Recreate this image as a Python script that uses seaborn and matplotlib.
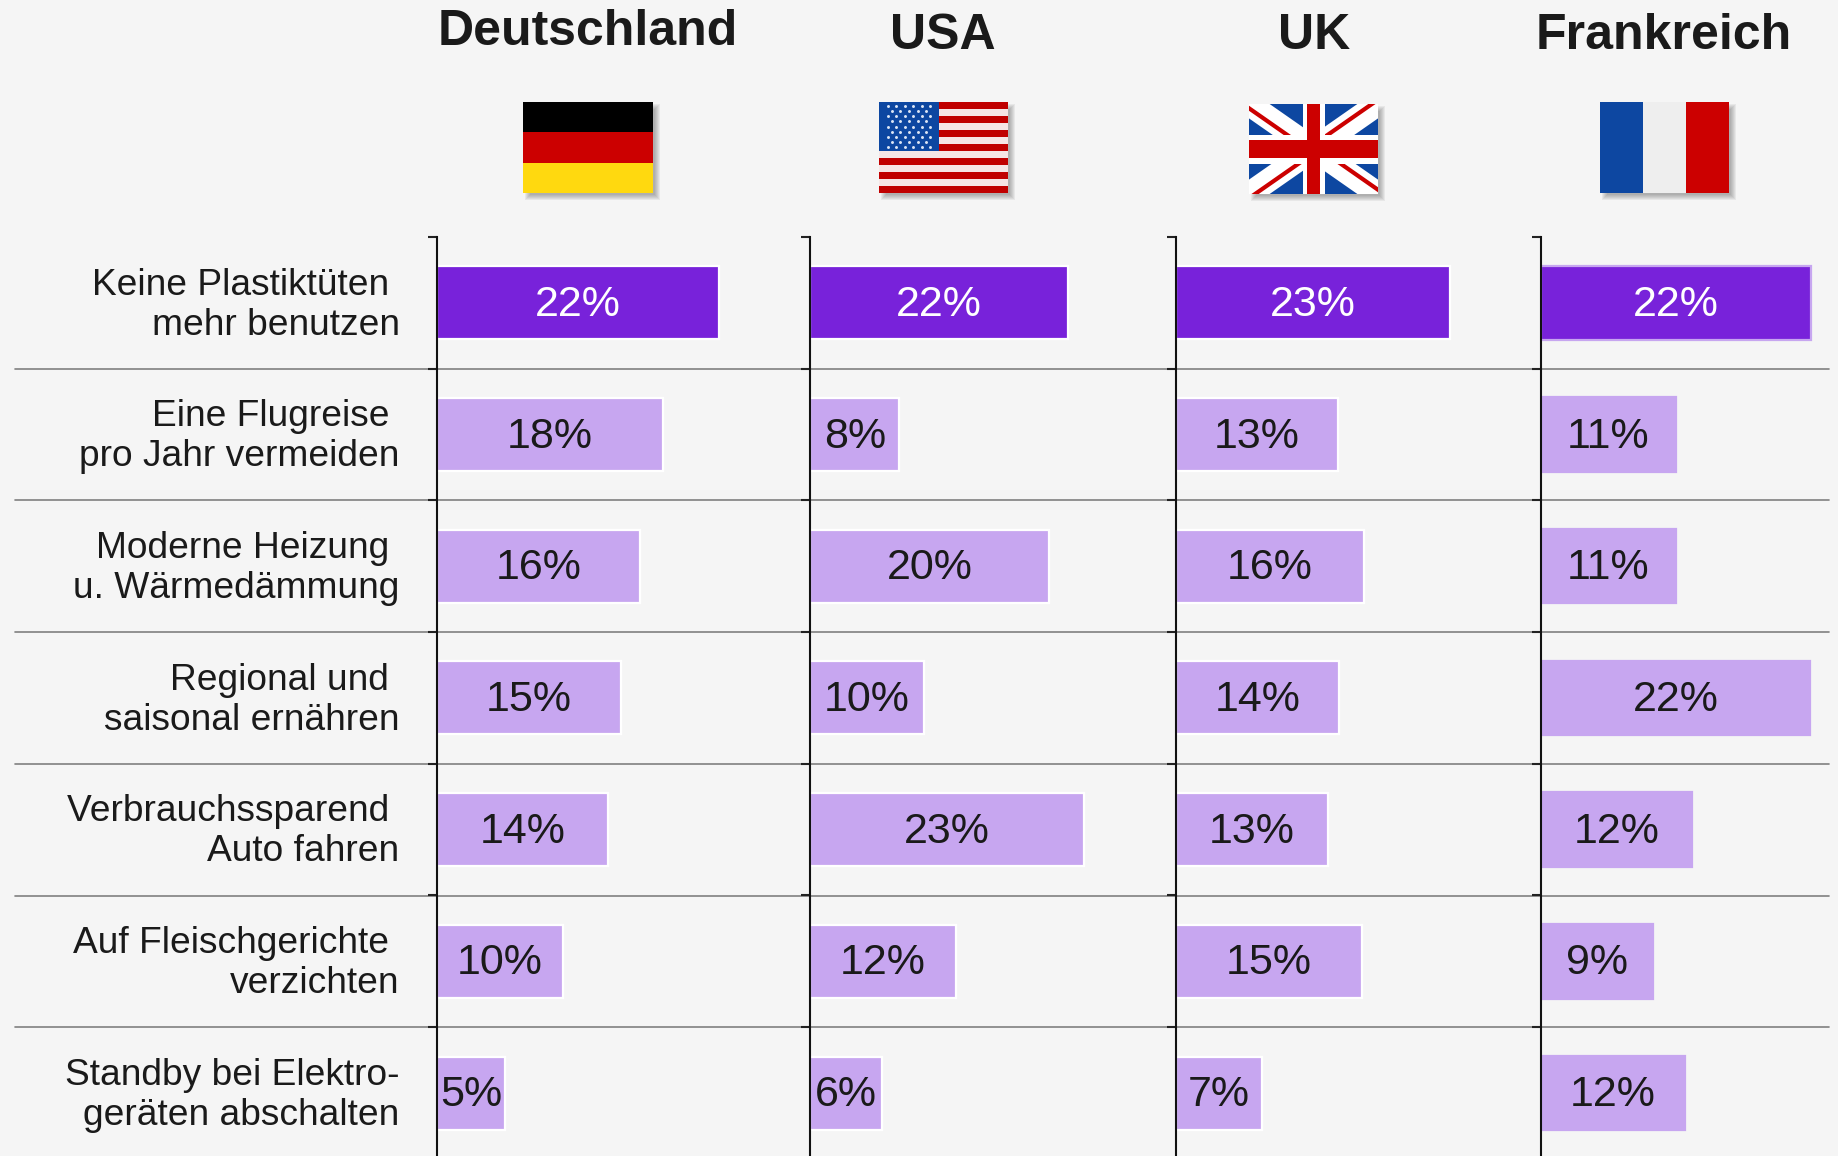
import matplotlib
matplotlib.use('Agg')
import matplotlib.pyplot as plt
from matplotlib.patches import Rectangle
from matplotlib.transforms import ScaledTranslation
import pandas as pd
import seaborn as sns

# Maßnahmen (Zeilen)
massnahmen = ['Keine Plastiktüten \nmehr benutzen', 'Eine Flugreise \npro Jahr vermeiden',
              'Moderne Heizung \nu. Wärmedämmung', 'Regional und \nsaisonal ernähren',
              'Verbrauchssparend \nAuto fahren', 'Auf Fleischgerichte \nverzichten',
              'Standby bei Elektro-\ngeräten abschalten']

# Balkenlängen, Beschriftung wie gedruckt
deutschland = [22.4, 18.0, 16.1, 14.6, 13.6, 10.0, 5.4]
usa = [21.9, 7.6, 20.3, 9.7, 23.3, 12.4, 6.1]
uk = [23.2, 13.7, 15.9, 13.8, 12.9, 15.8, 7.3]
frankreich = [22.0, 11.0, 11.0, 21.9, 12.3, 9.1, 11.7]

labels_deutschland = ['22%', '18%', '16%', '15%', '14%', '10%', '5%']
labels_usa = ['22%', '8%', '20%', '10%', '23%', '12%', '6%']
labels_uk = ['23%', '13%', '16%', '14%', '13%', '15%', '7%']
labels_frankreich = ['22%', '11%', '11%', '22%', '12%', '9%', '12%']

BG = '#F5F5F5'
DARK = '#7822DA'
LIGHT = '#C7A6F0'
TEXT = '#1A1A1A'
BLUE = '#0D47A1'
RED = '#CC0000'

W, H = 1838, 1156
TOP = 237
ROW = 131.7

sns.set_theme(style='white', rc={'figure.facecolor': BG, 'savefig.facecolor': BG})
plt.rcParams['font.family'] = ['Liberation Sans', 'DejaVu Sans']

fig = plt.figure(figsize=(W / 100, H / 100), dpi=100)

# Hintergrund-Achse in Pixelkoordinaten für Titel, Flaggen, Trennlinien
bg = fig.add_axes([0, 0, 1, 1], zorder=0)
bg.set_xlim(0, W)
bg.set_ylim(H, 0)
bg.axis('off')


def flag_base(x, y, w, h):
    # weicher Schatten
    for i in range(1, 7):
        bg.add_patch(Rectangle((x + 8 - i, y + 8 - i), w + 2 * i - 7, h + 2 * i - 7,
                               color='#444444', alpha=0.08, lw=0))
    return Rectangle((x, y), w, h, transform=bg.transData)


def draw_germany(x, y, w, h):
    flag_base(x, y, w, h)
    for i, c in enumerate(['#000000', RED, '#FFD90F']):
        bg.add_patch(Rectangle((x, y + i * h / 3), w, h / 3, color=c, lw=0))


def draw_france(x, y, w, h):
    flag_base(x, y, w, h)
    for i, c in enumerate([BLUE, '#EEEEEE', RED]):
        bg.add_patch(Rectangle((x + i * w / 3, y), w / 3, h, color=c, lw=0))


def draw_usa(x, y, w, h):
    flag_base(x, y, w, h)
    for i in range(13):
        c = '#C00000' if i % 2 == 0 else '#F6E6E6'
        bg.add_patch(Rectangle((x, y + i * h / 13), w, h / 13, color=c, lw=0))
    cw, ch = w * 0.465, h * 7 / 13
    bg.add_patch(Rectangle((x, y), cw, ch, color=BLUE, lw=0, zorder=2))
    sx, sy = [], []
    for r in range(9):
        n = 6 if r % 2 == 0 else 5
        for c in range(n):
            sx.append(x + cw * (c + (1 if r % 2 == 0 else 1.5)) / 7)
            sy.append(y + ch * (r + 0.7) / 9.4)
    bg.scatter(sx, sy, s=4.5, color='#DCE6F5', lw=0, zorder=3)


def draw_uk(x, y, w, h):
    clip = flag_base(x, y, w, h)
    bg.add_patch(Rectangle((x, y), w, h, color=BLUE, lw=0))
    cx, cy = x + w / 2, y + h / 2
    arms = [((x, y), -2.5, 2.5), ((x + w, y), -2.5, -2.5),
            ((x + w, y + h), 2.5, -2.5), ((x, y + h), 2.5, 2.5)]
    for (ax_, ay_), dx, dy in arms:
        line, = bg.plot([ax_, cx], [ay_, cy], color='white', lw=17, solid_capstyle='projecting')
        line.set_clip_path(clip)
        line, = bg.plot([ax_ + dx, cx + dx], [ay_ + dy, cy + dy], color=RED, lw=3,
                        solid_capstyle='butt')
        line.set_clip_path(clip)
    bg.add_patch(Rectangle((cx - 11, y), 22, h, color='white', lw=0, zorder=3))
    bg.add_patch(Rectangle((x, cy - 14.5), w, 29, color='white', lw=0, zorder=3))
    bg.add_patch(Rectangle((cx - 6.5, y), 13, h, color=RED, lw=0, zorder=4))
    bg.add_patch(Rectangle((x, cy - 9), w, 18, color=RED, lw=0, zorder=4))


# Spalten: Name, Werte, Labels, Achse links/rechts, Skala, Balkenhöhe, Kante, Titel x/y, Flagge
panels = [
    ('Deutschland', deutschland, labels_deutschland, 437, 800, 12.58, 0.555, 'white', 588, 32, draw_germany, (523, 102, 130, 91)),
    ('USA', usa, labels_usa, 810, 1166, 11.76, 0.555, 'white', 943, 36, draw_usa, (879, 102, 129, 91)),
    ('UK', uk, labels_uk, 1176, 1531, 11.8, 0.555, 'white', 1314, 36, draw_uk, (1249, 104, 129, 90)),
    ('Frankreich', frankreich, labels_frankreich, 1541, 1838, 12.28, 0.565, LIGHT, 1664, 36, draw_france, (1600, 102, 129, 91)),
]

for k, (name, values, labels, x0, x1, scale, bar_h, edge, tx, ty, flag, box) in enumerate(panels):
    bg.text(tx, ty, name, ha='center', va='center', fontsize=36, fontweight='bold', color=TEXT)
    flag(*box)

    ax = fig.add_axes([x0 / W, 0, (x1 - x0) / W, (H - TOP) / H], zorder=2)
    ax.patch.set_alpha(0)
    df = pd.DataFrame({'massnahme': massnahmen, 'wert': values})
    sns.barplot(data=df, x='wert', y='massnahme', hue='massnahme', order=massnahmen,
                palette=[DARK] + [LIGHT] * 6, width=bar_h, dodge=False, legend=False,
                edgecolor=edge, linewidth=1.6, saturation=1, ax=ax)
    ax.set_xlim(0, (x1 - x0) / scale)
    ax.set_ylim((H - TOP) / ROW - 0.5, -0.5)

    for i, (bars, lab) in enumerate(zip(ax.containers, labels)):
        ann = ax.bar_label(bars, labels=[lab], label_type='center', fontsize=31,
                           color='white' if i == 0 else TEXT)
        ann[0].xyann = (0, -1.5)

    sns.despine(ax=ax, top=True, right=True, bottom=True)
    ax.spines['left'].set_color('#111111')
    ax.spines['left'].set_linewidth(1.5)
    ax.set_xlabel('')
    ax.set_ylabel('')
    ax.set_xticks([])
    ax.set_yticks([i - 0.5 for i in range(7)], minor=True)
    ax.tick_params(axis='y', which='minor', left=True, length=6.5, width=1.5, color='#222222')
    ax.tick_params(axis='y', which='major', left=False, length=0, pad=27, labelsize=26.7,
                   labelcolor=TEXT, labelleft=k == 0)
    if k == 0:
        for t in ax.get_yticklabels():
            t.set_linespacing(1.18)
            t.set_transform(t.get_transform() + ScaledTranslation(0, 3 / 72, fig.dpi_scale_trans))

# Trennlinien zwischen den Zeilen
for i in range(1, 7):
    bg.plot([15, 1829], [TOP + i * ROW, TOP + i * ROW], color='#808080', lw=1.2)

plt.savefig('out.png', dpi=100)
plt.close()
